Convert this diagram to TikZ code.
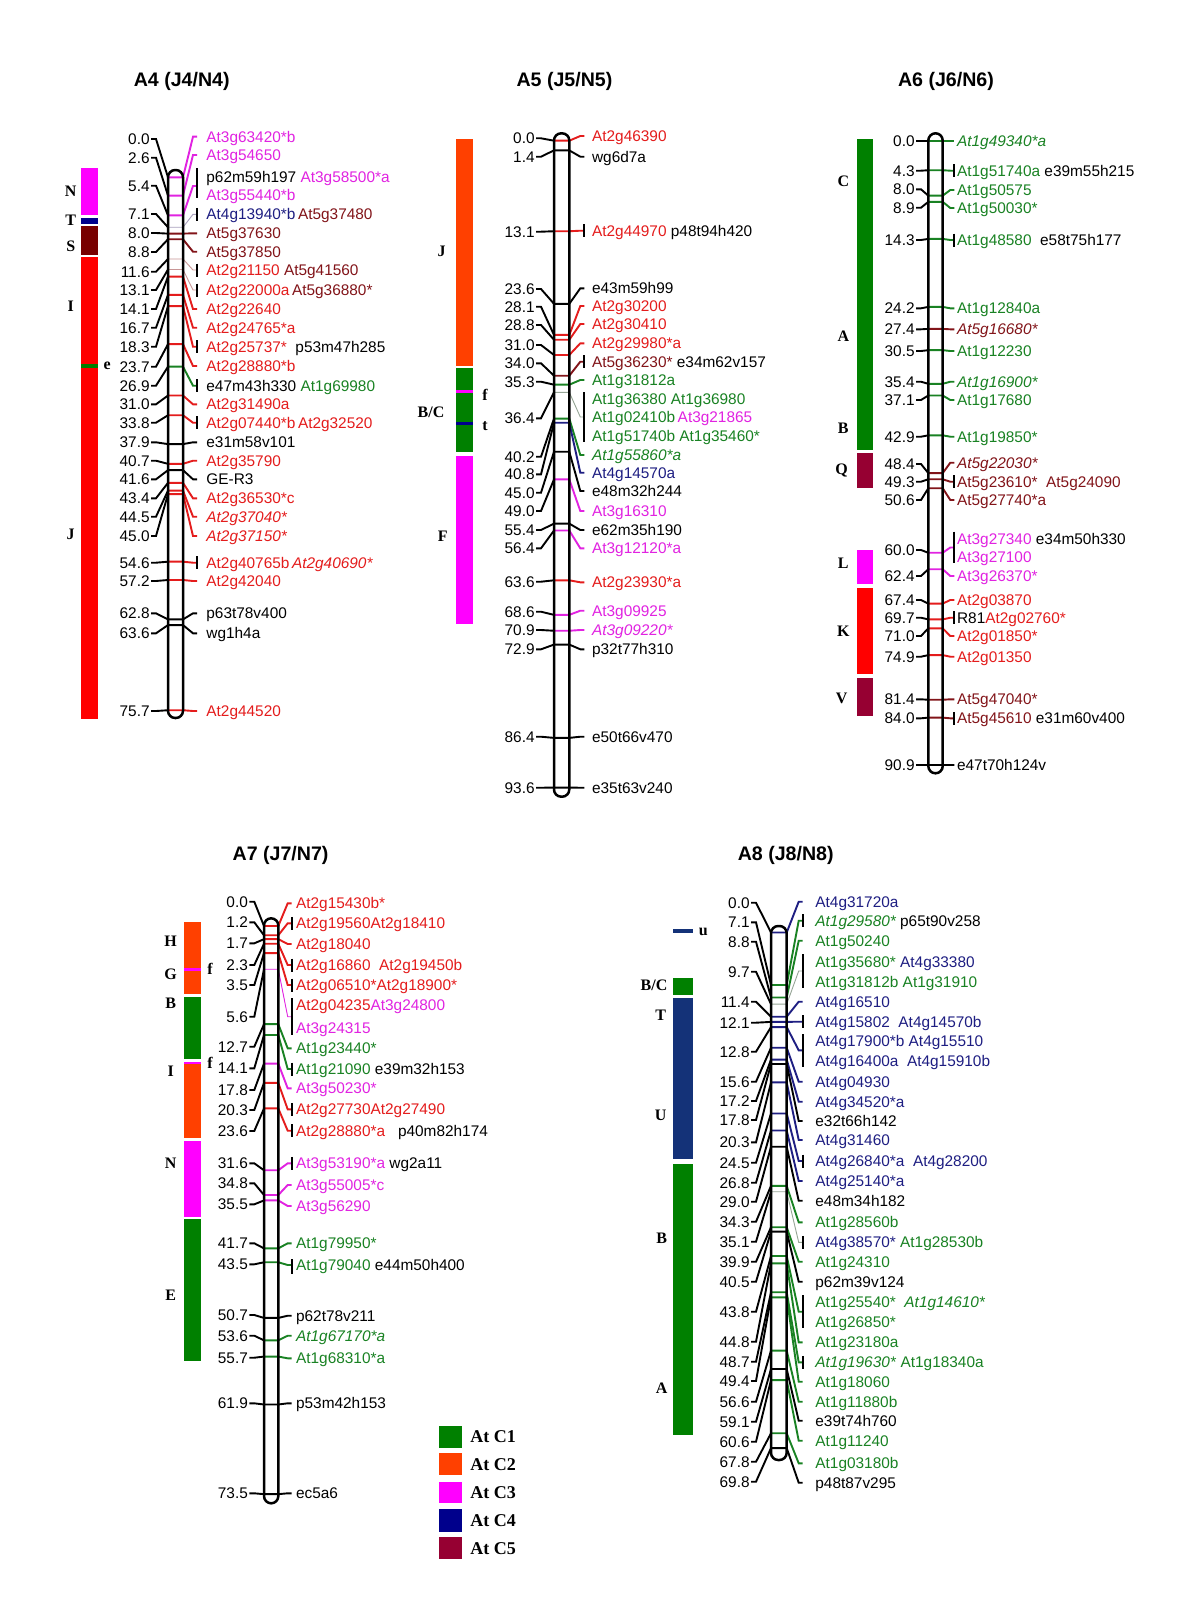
\documentclass[tikz,border=0pt]{standalone}
\usepackage{fontspec}
\setmainfont{Liberation Sans}
\newfontfamily\serifb{Liberation Serif}
\definecolor{cR}{RGB}{228,28,28}
\definecolor{cM}{RGB}{225,35,225}
\definecolor{cB}{RGB}{130,20,25}
\definecolor{cG}{RGB}{25,130,35}
\definecolor{cN}{RGB}{30,30,130}
\definecolor{bR}{RGB}{255,0,0}
\definecolor{bO}{RGB}{255,64,0}
\definecolor{bM}{RGB}{255,0,255}
\definecolor{bG}{RGB}{0,128,0}
\definecolor{bN}{RGB}{0,0,140}
\definecolor{bNt}{RGB}{20,50,120}
\definecolor{bS}{RGB}{120,0,0}
\definecolor{bQ}{RGB}{150,0,50}
\definecolor{mixA}{RGB}{170,160,190}
\definecolor{mixB}{RGB}{200,150,150}
\definecolor{mixC}{RGB}{150,165,150}
\newcommand\tR[1]{\textcolor{cR}{#1}}
\newcommand\tM[1]{\textcolor{cM}{#1}}
\newcommand\tB[1]{\textcolor{cB}{#1}}
\newcommand\tG[1]{\textcolor{cG}{#1}}
\newcommand\tN[1]{\textcolor{cN}{#1}}
\newcommand\setchr[7]{\def\xl{#1}\def\xr{#2}\def\nx{#3}\def\rx{#4}\def\lx{#5}\def\yz{#6}\def\sc{#7}}
\newcommand\mk[5][]{%
  \pgfmathsetmacro\ym{\yz+#2*\sc}%
  \node[num] at (\nx,#3+5.5) {#2};%
  \draw[conn] (\nx+1,#3) -- (\nx+6,#3) -- (\xl,\ym);%
  \draw[conn,#5,#1] (\xl,\ym) -- (\xr,\ym) -- (\rx-4,#4) -- (\rx,#4);}
\newcommand\rt[2]{\node[lab] at (\lx,#1+5.5) {#2};}
\newcommand\tk[1]{\draw[barl] (\rx,#1-6.5) -- (\rx,#1+6.5);}
\newcommand\gb[2]{\draw[barl] (\rx,#1) -- (\rx,#2);}
\newcommand\chrom[2]{\draw[chromo] (\xl,#1) rectangle (\xr,#2);}
\tikzset{
  num/.style={anchor=base east, inner sep=0pt, font=\fontsize{7.7}{9}\selectfont},
  lab/.style={anchor=base west, inner sep=0pt, font=\fontsize{7.7}{9}\selectfont},
  conn/.style={line width=0.95pt},
  mix/.style={line width=0.45pt},
  chromo/.style={line width=1.25pt, rounded corners=3.6pt},
  barl/.style={line width=0.95pt},
  band/.style={font=\serifb\bfseries\fontsize{8}{9}\selectfont, inner sep=0pt},
  ttl/.style={font=\bfseries\fontsize{9.8}{11}\selectfont, inner sep=0pt},
  leg/.style={font=\serifb\bfseries\fontsize{9}{10}\selectfont, inner sep=0pt, anchor=west},
}
\begin{document}
\begin{tikzpicture}[x=0.5pt,y=-0.5pt]
\useasboundingbox (0,0) rectangle (1200,1600);
\fill[white] (0,0) rectangle (1200,1600);
% ---------- titles
\node[ttl] (t4) at (181.7,81.7) {A4 (J4/N4)};
\node[ttl] (t5) at (564.5,81.7) {A5 (J5/N5)};
\node[ttl] (t6) at (946,81.7) {A6 (J6/N6)};
\node[ttl] (t7) at (280.6,855) {A7 (J7/N7)};
\node[ttl] (t8) at (785.7,855) {A8 (J8/N8)};
% ---------- A4 bands
\fill[bM] (81,168.3) rectangle (98,215);
\fill[bN] (81,217.7) rectangle (98,224);
\fill[bS] (81,226) rectangle (98,255);
\fill[bR] (81,257.3) rectangle (98,719);
\fill[bG] (81,364.3) rectangle (98,368.3);
\node[band] (bN4) at (70.7,191.7) {N};
\node[band] (bT4) at (70.7,220) {T};
\node[band] (bS4) at (70.7,246) {S};
\node[band] (bI4) at (70.7,306.7) {I};
\node[band] (be4) at (107.3,366) {e};
\node[band] (bJ4) at (70.7,534) {J};
% ---------- A4 markers
\setchr{168}{183}{150}{197}{206}{177.3}{7.04}
\mk{0.0}{139}{136.7}{cM}
\mk{2.6}{157.7}{155}{cM}
\mk{5.4}{185.7}{186}{cM}
\mk[mix]{7.1}{214}{214.3}{mixA}
\mk{8.0}{233}{233.3}{cB}
\mk{8.8}{252}{251.7}{cB}
\mk[mix]{11.6}{271.7}{270}{mixB}
\mk[mix]{13.1}{290}{290}{mixB}
\mk{14.1}{309}{309}{cR}
\mk{16.7}{327.7}{327.7}{cR}
\mk{18.3}{346.7}{346.7}{cR}
\mk{23.7}{366.7}{366}{cR}
\mk{26.9}{385.7}{385.7}{cG}
\mk{31.0}{404.3}{404.3}{cR}
\mk{33.8}{422.7}{422.7}{cR}
\mk{37.9}{442.3}{442.3}{black}
\mk{40.7}{460.7}{460.7}{cR}
\mk{41.6}{479.3}{479.3}{black}
\mk{43.4}{498.3}{498.3}{cR}
\mk{44.5}{516.7}{516.7}{cR}
\mk{45.0}{536}{536}{cR}
\mk{54.6}{562.7}{562.7}{cR}
\mk{57.2}{581}{581}{cR}
\mk{62.8}{613.3}{613.3}{black}
\mk{63.6}{633.3}{633.3}{black}
\mk{75.7}{711}{711}{cR}
\chrom{170}{718}
\rt{136.7}{\tM{At3g63420*b}}
\rt{155}{\tM{At3g54650}}
\rt{176.7}{p62m59h197 \tM{At3g58500*a}}
\rt{195.3}{\tM{At3g55440*b}}
\gb{168}{198}
\rt{214.3}{\tN{At4g13940*b}\,\tB{At5g37480}}\tk{214.3}
\rt{233.3}{\tB{At5g37630}}
\rt{251.7}{\tB{At5g37850}}
\rt{270}{\tR{At2g21150} \tB{At5g41560}}\tk{270}
\rt{290}{\tR{At2g22000a}\,\tB{At5g36880*}}\tk{290}
\rt{309}{\tR{At2g22640}}
\rt{327.7}{\tR{At2g24765*a}}
\rt{346.7}{\tR{At2g25737*}\ \ p53m47h285}\tk{346.7}
\rt{366}{\tR{At2g28880*b}}
\rt{385.7}{e47m43h330 \tG{At1g69980}}\tk{385.7}
\rt{404.3}{\tR{At2g31490a}}
\rt{422.7}{\tR{At2g07440*b\,At2g32520}}\tk{422.7}
\rt{442.3}{e31m58v101}
\rt{460.7}{\tR{At2g35790}}
\rt{479.3}{GE-R3}
\rt{498.3}{\tR{At2g36530*c}}
\rt{516.7}{\tR{\itshape At2g37040*}}
\rt{536}{\tR{\itshape At2g37150*}}
\rt{562.7}{\tR{At2g40765b\,\textit{At2g40690*}}}\tk{562.7}
\rt{581}{\tR{At2g42040}}
\rt{613.3}{p63t78v400}
\rt{633.3}{wg1h4a}
\rt{711}{\tR{At2g44520}}
% ---------- A5 bands
\fill[bO] (456,139.3) rectangle (472.7,366);
\fill[bG] (456,368.3) rectangle (472.7,452.3);
\fill[bM] (456,390) rectangle (472.7,393);
\fill[bN] (456,422.3) rectangle (472.7,425);
\fill[bM] (456,456) rectangle (472.7,624.3);
\node[band] (bJ5) at (441.7,251.7) {J};
\node[band] (bf5) at (485,395) {f};
\node[band] (bt5) at (485,426) {t};
\node[band] (bBC5) at (431,412.5) {B/C};
\node[band] (bF5) at (442.7,536.7) {F};
% ---------- A5 markers
\setchr{554}{569.3}{535}{584.3}{591.7}{140.7}{6.912}
\mk{0.0}{138.3}{136}{cR}
\mk{1.4}{156.7}{156.7}{black}
\mk{13.1}{231.7}{230.7}{cR}
\mk{23.6}{289}{288.3}{black}
\mk{28.1}{306.7}{306}{cR}
\mk{28.8}{325}{324}{cR}
\mk{31.0}{345}{343.3}{cR}
\mk{34.0}{363.3}{361.7}{cB}
\mk{35.3}{381.7}{380}{cG}
\mk[mix]{36.4}{418.3}{417}{mixC}
\mk{40.2}{456.7}{455}{cG}
\mk{40.8}{474.3}{472.7}{cN}
\mk{45.0}{492.7}{491}{black}
\mk{49.0}{511}{511}{cM}
\mk{55.4}{530}{530}{black}
\mk{56.4}{548.3}{548.3}{cM}
\mk{63.6}{581.7}{582.3}{cR}
\mk{68.6}{611.7}{610.7}{cM}
\mk{70.9}{630}{630}{cM}
\mk{72.9}{649.3}{649.3}{black}
\mk{86.4}{736.7}{736.7}{black}
\mk{93.6}{787.7}{787.7}{black}
\chrom{133.3}{796.7}
\rt{136}{\tR{At2g46390}}
\rt{156.7}{wg6d7a}
\rt{230.7}{\tR{At2g44970} p48t94h420}\tk{230.7}
\rt{288.3}{e43m59h99}
\rt{306}{\tR{At2g30200}}
\rt{324}{\tR{At2g30410}}
\rt{343.3}{\tR{At2g29980*a}}
\rt{361.7}{\tB{At5g36230*} e34m62v157}\tk{361.7}
\rt{380}{\tG{At1g31812a}}
\rt{399.3}{\tG{At1g36380 At1g36980}}
\rt{417.3}{\tG{At1g02410b}\,\tM{At3g21865}}
\rt{436}{\tG{At1g51740b At1g35460*}}
\gb{392}{442}
\rt{455}{\tG{\itshape At1g55860*a}}
\rt{472.7}{\tN{At4g14570a}}
\rt{491}{e48m32h244}
\rt{511}{\tM{At3g16310}}
\rt{530}{e62m35h190}
\rt{548.3}{\tM{At3g12120*a}}
\rt{582.3}{\tR{At2g23930*a}}
\rt{610.7}{\tM{At3g09925}}
\rt{630}{\tM{\itshape At3g09220*}}
\rt{649.3}{p32t77h310}
\rt{736.7}{e50t66v470}
\rt{787.7}{e35t63v240}
% ---------- A6 bands
\fill[bG] (856.7,139.3) rectangle (873.3,450);
\fill[bQ] (856.7,452.7) rectangle (873.3,488.3);
\fill[bM] (856.7,550) rectangle (873.3,584.3);
\fill[bR] (856.7,588.3) rectangle (873.3,674.3);
\fill[bQ] (856.7,678.3) rectangle (873.3,716);
\node[band] (bC6) at (843.3,181.7) {C};
\node[band] (bA6) at (843.3,336) {A};
\node[band] (bB6) at (843.3,428.3) {B};
\node[band] (bQ6) at (841.7,470) {Q};
\node[band] (bL6) at (843.3,563.3) {L};
\node[band] (bK6) at (843.3,631.7) {K};
\node[band] (bV6) at (841.7,698.3) {V};
% ---------- A6 markers
\setchr{928.3}{942.7}{915}{954.3}{956.7}{140.7}{6.868}
\mk{0.0}{140.7}{140.7}{cG}
\mk{4.3}{170.7}{170.7}{cG}
\mk{8.0}{189.3}{190}{cG}
\mk{8.9}{207.7}{208}{cG}
\mk{14.3}{240}{240}{cG}
\mk{24.2}{308.3}{308.3}{cG}
\mk{27.4}{329.3}{329.3}{cB}
\mk{30.5}{351}{351}{cG}
\mk{35.4}{381.7}{381.7}{cG}
\mk{37.1}{400}{400}{cG}
\mk{42.9}{436.7}{436.7}{cG}
\mk{48.4}{464}{462.7}{cB}
\mk{49.3}{481.7}{481.7}{cB}
\mk{50.6}{500}{500}{cB}
\mk{60.0}{550}{547.5}{cM}
\mk{62.4}{576}{576}{cM}
\mk{67.4}{600}{600}{cR}
\mk{69.7}{617.7}{617.7}{cR}
\mk{71.0}{636}{636}{cR}
\mk{74.9}{656.7}{656.7}{cR}
\mk{81.4}{699.3}{699.3}{cB}
\mk{84.0}{718.3}{718.3}{cB}
\mk{90.9}{765}{765}{black}
\chrom{133.3}{773.3}
\rt{140.7}{\tG{\itshape At1g49340*a}}
\rt{170.7}{\tG{At1g51740a} e39m55h215}\tk{170.7}
\rt{190}{\tG{At1g50575}}
\rt{208}{\tG{At1g50030*}}
\rt{240}{\tG{At1g48580}\ \ e58t75h177}\tk{240}
\rt{308.3}{\tG{At1g12840a}}
\rt{329.3}{\tB{\itshape At5g16680*}}
\rt{351}{\tG{At1g12230}}
\rt{381.7}{\tG{\itshape At1g16900*}}
\rt{400}{\tG{At1g17680}}
\rt{436.7}{\tG{At1g19850*}}
\rt{462.7}{\tB{\itshape At5g22030*}}
\rt{481.7}{\tB{At5g23610*\ \ At5g24090}}\tk{481.7}
\rt{500}{\tB{At5g27740*a}}
\rt{539.3}{\tM{At3g27340} e34m50h330}
\rt{557.3}{\tM{At3g27100}}
\gb{531.7}{563.3}
\rt{576}{\tM{At3g26370*}}
\rt{600}{\tR{At2g03870}}
\rt{617.7}{R81\tR{At2g02760*}}\tk{617.7}
\rt{636}{\tR{At2g01850*}}
\rt{656.7}{\tR{At2g01350}}
\rt{699.3}{\tB{At5g47040*}}
\rt{718.3}{\tB{At5g45610} e31m60v400}\tk{718.3}
\rt{765}{e47t70h124v}
% ---------- A7 bands
\fill[bO] (184.3,921.7) rectangle (200.7,994);
\fill[bM] (184.3,967.5) rectangle (200.7,970.5);
\fill[bG] (184.3,996.7) rectangle (200.7,1059.3);
\fill[bO] (184.3,1061.7) rectangle (200.7,1138.3);
\fill[bM] (184.3,1061.7) rectangle (200.7,1064);
\fill[bM] (184.3,1141) rectangle (200.7,1216.7);
\fill[bG] (184.3,1219.3) rectangle (200.7,1360.7);
\node[band] (bH7) at (170.7,941.7) {H};
\node[band] (bG7) at (170.7,974) {G};
\node[band] (bf7a) at (210,969) {f};
\node[band] (bB7) at (170.7,1003.3) {B};
\node[band] (bf7b) at (210,1063) {f};
\node[band] (bI7) at (170.7,1071.7) {I};
\node[band] (bN7) at (170.7,1163.3) {N};
\node[band] (bE7) at (170.7,1295) {E};
% ---------- A7 markers
\setchr{264}{278.3}{248.3}{291.7}{295.7}{926}{7.73}
\mk{0.0}{901.7}{903.3}{cR}
\mk{1.2}{922.3}{923.3}{cR}
\mk{1.7}{943.3}{944}{cR}
\mk{2.3}{965}{965}{cR}
\mk{3.5}{985}{985}{cR}
\mk[mix]{5.6}{1016.7}{1016.7}{cM}
\mk{12.7}{1046.7}{1048.3}{cG}
\mk{14.1}{1068.3}{1069}{cG}
\mk{17.8}{1090}{1088.3}{cM}
\mk{20.3}{1110}{1109.3}{cR}
\mk{23.6}{1131}{1130.7}{cR}
\mk{31.6}{1163.3}{1163.3}{cM}
\mk{34.8}{1183.3}{1185}{cM}
\mk{35.5}{1204.3}{1206}{cM}
\mk{41.7}{1243.3}{1243.3}{cG}
\mk{43.5}{1264.3}{1265}{cG}
\mk{50.7}{1315}{1315.7}{black}
\mk{53.6}{1335.7}{1335.7}{cG}
\mk{55.7}{1357.7}{1358.3}{cG}
\mk{61.9}{1403.3}{1403.3}{black}
\mk{73.5}{1493.3}{1493.3}{black}
\chrom{918.3}{1503.3}
\rt{903.3}{\tR{At2g15430b*}}
\rt{923.3}{\tR{At2g19560At2g18410}}\tk{923.3}
\rt{944}{\tR{At2g18040}}
\rt{965}{\tR{At2g16860\ \ At2g19450b}}\tk{965}
\rt{985}{\tR{At2g06510*At2g18900*}}\tk{985}
\rt{1005}{\tR{At2g04235}\tM{At3g24800}}
\rt{1028.3}{\tM{At3g24315}}
\gb{998.3}{1035}
\rt{1048.3}{\tG{At1g23440*}}
\rt{1069}{\tG{At1g21090} e39m32h153}\tk{1069}
\rt{1088.3}{\tM{At3g50230*}}
\rt{1109.3}{\tR{At2g27730At2g27490}}\tk{1109.3}
\rt{1130.7}{\tR{At2g28880*a}\ \ \ p40m82h174}\tk{1130.7}
\rt{1163.3}{\tM{At3g53190*a} wg2a11}\tk{1163.3}
\rt{1185}{\tM{At3g55005*c}}
\rt{1206}{\tM{At3g56290}}
\rt{1243.3}{\tG{At1g79950*}}
\rt{1265}{\tG{At1g79040} e44m50h400}
\gb{1259}{1274}
\rt{1315.7}{p62t78v211}
\rt{1335.7}{\tG{\itshape At1g67170*a}}
\rt{1358.3}{\tG{At1g68310*a}}
\rt{1403.3}{p53m42h153}
\rt{1493.3}{ec5a6}
% ---------- legend
\fill[bG] (439.3,1426) rectangle (461.7,1447.7);
\fill[bO] (439.3,1453.3) rectangle (461.7,1475);
\fill[bM] (439.3,1481.7) rectangle (461.7,1503.3);
\fill[bN] (439.3,1509.3) rectangle (461.7,1531.7);
\fill[bQ] (439.3,1537.3) rectangle (461.7,1559.3);
\node[leg] (l1) at (470,1437) {At C1};
\node[leg] (l2) at (470,1464.2) {At C2};
\node[leg] (l3) at (470,1492.5) {At C3};
\node[leg] (l4) at (470,1520.5) {At C4};
\node[leg] (l5) at (470,1548.3) {At C5};
% ---------- A8 bands
\fill[bNt] (673.3,929) rectangle (692.7,933);
\node[band] (bu8) at (703.3,932) {u};
\fill[bG] (673.3,977.7) rectangle (692.7,995);
\fill[bNt] (673.3,998.3) rectangle (692.7,1159.3);
\fill[bG] (673.3,1164.3) rectangle (692.7,1435);
\node[band] (bBC8) at (654,985.5) {B/C};
\node[band] (bT8) at (660.7,1015) {T};
\node[band] (bU8) at (660.7,1115) {U};
\node[band] (bB8) at (661.7,1238.3) {B};
\node[band] (bA8) at (661.7,1388.3) {A};
% ---------- A8 markers
\setchr{771}{786.7}{750}{802.7}{815}{932.5}{7.386}
\mk{0.0}{902.7}{901.7}{cN}
\mk{7.1}{922.3}{920.7}{cG}
\mk{8.8}{941.7}{940.7}{cG}
\mk[mix]{9.7}{971.7}{971}{mixC}
\mk{11.4}{1001.7}{1001.7}{cN}
\mk{12.1}{1022.7}{1021.7}{cN}
\mk{12.8}{1051.7}{1050.3}{cN}
\mk{15.6}{1081.7}{1081.7}{cN}
\mk{17.2}{1101}{1101.7}{cN}
\mk{17.8}{1120}{1121}{black}
\mk{20.3}{1142.3}{1140}{cN}
\mk{24.5}{1162.7}{1161}{cN}
\mk{26.8}{1182.7}{1181}{cN}
\mk{29.0}{1201.7}{1200.7}{black}
\mk{34.3}{1221.7}{1222.3}{cG}
\mk[mix]{35.1}{1241.7}{1242.3}{mixC}
\mk{39.9}{1261.7}{1261.7}{cG}
\mk{40.5}{1281.7}{1281.7}{black}
\mk{43.8}{1311.7}{1311.7}{cG}
\mk{44.8}{1341.7}{1342.3}{cG}
\mk{48.7}{1361.7}{1362.3}{cG}
\mk{49.4}{1381}{1381.7}{cG}
\mk{56.6}{1401.7}{1401.7}{cG}
\mk{59.1}{1421.7}{1420.7}{black}
\mk{60.6}{1441.7}{1440.7}{cG}
\mk{67.8}{1461.7}{1463.3}{cG}
\mk{69.8}{1481.7}{1482.7}{black}
\chrom{926}{1460}
\rt{901.7}{\tN{At4g31720a}}
\rt{920.7}{\tG{\itshape At1g29580*} p65t90v258}\tk{920.7}
\rt{940.7}{\tG{At1g50240}}
\rt{961.7}{\tG{At1g35680*} \tN{At4g33380}}
\rt{981.7}{\tG{At1g31812b At1g31910}}
\gb{954}{988.3}
\rt{1001.7}{\tN{At4g16510}}
\rt{1021.7}{\tN{At4g15802\ \ At4g14570b}}\tk{1021.7}
\rt{1041}{\tN{At4g17900*b At4g15510}}
\rt{1061}{\tN{At4g16400a\ \ At4g15910b}}
\gb{1034}{1066.7}
\rt{1081.7}{\tN{At4g04930}}
\rt{1101.7}{\tN{At4g34520*a}}
\rt{1121}{e32t66h142}
\rt{1140}{\tN{At4g31460}}
\rt{1161}{\tN{At4g26840*a\ \ At4g28200}}\tk{1161}
\rt{1181}{\tN{At4g25140*a}}
\rt{1200.7}{e48m34h182}
\rt{1222.3}{\tG{At1g28560b}}
\rt{1242.3}{\tN{At4g38570*} \tG{At1g28530b}}\tk{1242.3}
\rt{1261.7}{\tG{At1g24310}}
\rt{1281.7}{p62m39v124}
\rt{1302.3}{\tG{At1g25540*\ \ \textit{At1g14610*}}}
\rt{1321.7}{\tG{At1g26850*}}
\gb{1295}{1328.3}
\rt{1342.3}{\tG{At1g23180a}}
\rt{1362.3}{\tG{\textit{At1g19630*} At1g18340a}}\tk{1362.3}
\rt{1381.7}{\tG{At1g18060}}
\rt{1401.7}{\tG{At1g11880b}}
\rt{1420.7}{e39t74h760}
\rt{1440.7}{\tG{At1g11240}}
\rt{1463.3}{\tG{At1g03180b}}
\rt{1482.7}{p48t87v295}
\end{tikzpicture}
\end{document}
